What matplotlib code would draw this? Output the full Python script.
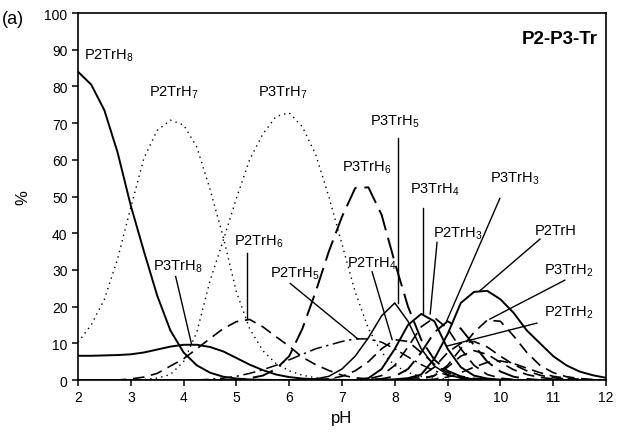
import numpy as np
import matplotlib
matplotlib.use("Agg")
import matplotlib.pyplot as plt

plt.rcParams['font.family'] = ['Liberation Sans', 'DejaVu Sans']
plt.rcParams['mathtext.fontset'] = 'custom'
plt.rcParams['mathtext.rm'] = 'Liberation Sans'
plt.rcParams['mathtext.it'] = 'Liberation Sans:italic'
plt.rcParams['mathtext.bf'] = 'Liberation Sans:bold'

# pH grid (step 0.25 from 2 to 12)
ph = [2.0, 2.25, 2.5, 2.75, 3.0, 3.25, 3.5, 3.75, 4.0, 4.25, 4.5, 4.75, 5.0, 5.25,
      5.5, 5.75, 6.0, 6.25, 6.5, 6.75, 7.0, 7.25, 7.5, 7.75, 8.0, 8.25, 8.5, 8.75,
      9.0, 9.25, 9.5, 9.75, 10.0, 10.25, 10.5, 10.75, 11.0, 11.25, 11.5, 11.75, 12.0]

#            2.0   2.25  2.5   2.75  3.0   3.25  3.5   3.75  4.0   4.25  4.5   4.75  5.0   5.25  5.5   5.75  6.0   6.25  6.5   6.75  7.0   7.25  7.5   7.75  8.0   8.25  8.5   8.75  9.0   9.25  9.5   9.75  10.0  10.25 10.5  10.75 11.0  11.25 11.5  11.75 12.0
P2TrH8  = [84.0, 80.5, 73.5, 62.0, 47.5, 35.0, 23.0, 13.5, 7.5,  4.0,  2.0,  0.9,  0.4,  0.15, 0.05, 0,    0,    0,    0,    0,    0,    0,    0,    0,    0,    0,    0,    0,    0,    0,    0,    0,    0,    0,    0,    0,    0,    0,    0,    0,    0]
P3TrH8  = [6.6,  6.6,  6.7,  6.8,  7.0,  7.5,  8.3,  9.1,  9.6,  9.6,  9.0,  7.8,  6.0,  4.2,  2.7,  1.5,  0.8,  0.4,  0.2,  0.1,  0,    0,    0,    0,    0,    0,    0,    0,    0,    0,    0,    0,    0,    0,    0,    0,    0,    0,    0,    0,    0]
P2TrH7  = [10.3, 15.0, 22.0, 33.0, 47.0, 60.5, 68.0, 70.8, 69.5, 63.5, 52.0, 39.0, 24.0, 14.0, 8.0,  4.5,  2.5,  1.3,  0.6,  0.3,  0.1,  0,    0,    0,    0,    0,    0,    0,    0,    0,    0,    0,    0,    0,    0,    0,    0,    0,    0,    0,    0]
P3TrH7  = [0,    0,    0,    0,    0.05, 0.15, 0.5,  1.5,  5.0,  13.0, 27.0, 38.0, 49.5, 60.0, 67.0, 71.8, 72.8, 69.0, 61.5, 50.0, 37.0, 24.0, 14.0, 7.5,  4.0,  2.0,  1.0,  0.5,  0.2,  0,    0,    0,    0,    0,    0,    0,    0,    0,    0,    0,    0]
P2TrH6  = [0,    0,    0,    0,    0.3,  0.8,  1.8,  3.8,  5.8,  8.5,  11.3, 14.0, 15.9, 16.5, 14.5, 11.8, 9.2,  6.2,  4.2,  2.6,  1.3,  0.6,  0.3,  0.1,  0,    0,    0,    0,    0,    0,    0,    0,    0,    0,    0,    0,    0,    0,    0,    0,    0]
P2TrH5  = [0,    0,    0,    0,    0,    0,    0,    0,    0,    0,    0.2,  0.5,  1.0,  1.8,  2.8,  4.0,  5.5,  7.0,  8.5,  9.5,  10.5, 11.2, 11.2, 10.3, 8.5,  6.3,  4.2,  2.5,  1.3,  0.6,  0.3,  0.1,  0,    0,    0,    0,    0,    0,    0,    0,    0]
P3TrH6  = [0,    0,    0,    0,    0,    0,    0,    0,    0,    0,    0,    0,    0,    0.5,  1.2,  3.0,  6.5,  14.0, 24.0, 35.0, 44.5, 52.3, 52.5, 45.0, 32.0, 20.0, 11.0, 5.5,  2.5,  1.0,  0.4,  0.15, 0,    0,    0,    0,    0,    0,    0,    0,    0]
P3TrH5  = [0,    0,    0,    0,    0,    0,    0,    0,    0,    0,    0,    0,    0,    0,    0,    0,    0,    0,    0.3,  1.0,  3.0,  6.5,  11.5, 17.5, 21.0, 16.0, 8.5,  3.8,  1.5,  0.5,  0.2,  0,    0,    0,    0,    0,    0,    0,    0,    0,    0]
P2TrH4  = [0,    0,    0,    0,    0,    0,    0,    0,    0,    0,    0,    0,    0,    0,    0,    0,    0,    0,    0,    0.3,  1.0,  2.5,  5.0,  8.5,  11.0, 10.5, 7.5,  4.3,  2.0,  0.8,  0.3,  0,    0,    0,    0,    0,    0,    0,    0,    0,    0]
P3TrH4  = [0,    0,    0,    0,    0,    0,    0,    0,    0,    0,    0,    0,    0,    0,    0,    0,    0,    0,    0,    0,    0,    0,    0.5,  3.0,  8.5,  15.0, 18.0, 16.0, 8.5,  3.5,  1.2,  0.4,  0.1,  0,    0,    0,    0,    0,    0,    0,    0]
P2TrH3  = [0,    0,    0,    0,    0,    0,    0,    0,    0,    0,    0,    0,    0,    0,    0,    0,    0,    0,    0,    0,    0,    0,    0.3,  1.2,  4.0,  9.0,  14.5, 17.0, 14.0, 8.5,  4.0,  1.5,  0.5,  0.15, 0,    0,    0,    0,    0,    0,    0]
P3TrH3  = [0,    0,    0,    0,    0,    0,    0,    0,    0,    0,    0,    0,    0,    0,    0,    0,    0,    0,    0,    0,    0,    0,    0,    0.3,  1.0,  3.0,  7.5,  13.0, 16.0, 14.0, 9.5,  5.0,  2.3,  0.9,  0.3,  0,    0,    0,    0,    0,    0]
P2TrH   = [0,    0,    0,    0,    0,    0,    0,    0,    0,    0,    0,    0,    0,    0,    0,    0,    0,    0,    0,    0,    0,    0,    0,    0,    0.2,  0.5,  1.5,  5.8,  12.5, 21.0, 24.0, 24.3, 22.0, 18.3, 13.5, 10.0, 6.5,  4.0,  2.3,  1.3,  0.6]
P3TrH2  = [0,    0,    0,    0,    0,    0,    0,    0,    0,    0,    0,    0,    0,    0,    0,    0,    0,    0,    0,    0,    0,    0,    0,    0,    0,    0,    0.3,  1.2,  4.0,  8.5,  13.0, 16.3, 16.0, 12.0, 7.5,  4.0,  2.0,  0.9,  0.4,  0.15, 0]
P2TrH2  = [0,    0,    0,    0,    0,    0,    0,    0,    0,    0,    0,    0,    0,    0,    0,    0,    0,    0,    0,    0,    0,    0,    0,    0,    0,    0.3,  1.0,  3.5,  7.5,  10.0, 10.5, 9.0,  6.5,  4.2,  2.5,  1.3,  0.6,  0.3,  0,    0,    0]
P3TrH   = [0,    0,    0,    0,    0,    0,    0,    0,    0,    0,    0,    0,    0,    0,    0,    0,    0,    0,    0,    0,    0,    0,    0,    0,    0,    0,    0.3,  1.2,  3.5,  6.5,  8.0,  7.0,  4.8,  2.8,  1.5,  0.7,  0.3,  0,    0,    0,    0]
P2Tr    = [0,    0,    0,    0,    0,    0,    0,    0,    0,    0,    0,    0,    0,    0,    0,    0,    0,    0,    0,    0,    0,    0,    0,    0,    0,    0,    0,    0.2,  0.8,  2.0,  3.5,  4.8,  5.2,  4.5,  3.2,  2.0,  1.0,  0.5,  0.2,  0,    0]

fig = plt.figure(figsize=(6.17, 4.39), dpi=100)
ax = fig.add_axes([0.1264, 0.1321, 0.8558, 0.8360])

solid = dict(color='black', lw=1.4, ls='-')
thin = dict(color='black', lw=1.1, ls='-')
dotted = dict(color='black', lw=1.0, ls=(0, (1, 3)))
dash = dict(color='black', lw=1.2, ls=(0, (7, 4)))
longdash = dict(color='black', lw=1.4, ls=(0, (11, 4)))
dashdot = dict(color='black', lw=1.1, ls=(0, (8, 3, 1.5, 3)))

series = [
    (P2TrH8, solid), (P3TrH8, solid), (P2TrH7, dotted), (P3TrH7, dotted),
    (P2TrH6, dash), (P2TrH5, dashdot), (P3TrH6, longdash), (P3TrH5, thin),
    (P2TrH4, dash), (P3TrH4, solid), (P2TrH3, dash), (P3TrH3, longdash),
    (P2TrH, solid), (P3TrH2, dash), (P2TrH2, dash), (P3TrH, dash), (P2Tr, dash),
]
for vals, st in series:
    ax.plot(ph, vals, **st)

ax.set_xlim(2, 12)
ax.set_ylim(0, 100)
ax.set_xticks(range(2, 13))
ax.set_yticks(range(0, 101, 10))
ax.tick_params(direction='out', length=4, width=1.1, labelsize=10, colors='black')
for s in ax.spines.values():
    s.set_linewidth(1.2)
    s.set_color('black')

ax.set_xlabel('pH', fontsize=12, labelpad=4)
ax.set_ylabel('%', fontsize=12, labelpad=10)

fs = 10.5
labels = [
    (r'P2TrH$_8$', 2.12, 88.5, None, None),
    (r'P2TrH$_7$', 3.82, 78.5, None, None),
    (r'P3TrH$_7$', 5.88, 78.5, None, None),
    (r'P3TrH$_6$', 7.47, 58.0, None, None),
    (r'P3TrH$_5$', 8.0, 70.5, (8.06, 66.0), (8.06, 21.0)),
    (r'P3TrH$_4$', 8.75, 52.0, (8.53, 47.0), (8.53, 18.0)),
    (r'P3TrH$_3$', 10.28, 55.0, (9.99, 49.5), (8.98, 16.0)),
    (r'P2TrH$_3$', 9.2, 40.0, (8.80, 37.5), (8.67, 18.0)),
    (r'P2TrH', 11.05, 40.8, (10.75, 38.4), (9.61, 24.3)),
    (r'P3TrH$_2$', 11.3, 30.0, (11.22, 27.2), (9.80, 16.6)),
    (r'P2TrH$_2$', 11.3, 18.6, (10.69, 15.5), (9.00, 9.3)),
    (r'P2TrH$_4$', 7.57, 32.0, (7.57, 29.5), (7.95, 11.0)),
    (r'P2TrH$_5$', 6.1, 29.2, (6.02, 26.3), (7.30, 11.2)),
    (r'P2TrH$_6$', 5.43, 37.8, (5.20, 34.5), (5.20, 16.6)),
    (r'P3TrH$_8$', 3.9, 31.0, (3.85, 28.2), (4.15, 9.8)),
]
for txt, x, y, p0, p1 in labels:
    ha = 'left' if txt.endswith('8$') and x < 2.5 else 'center'
    ax.text(x, y, txt, fontsize=fs, ha=ha, va='center')
    if p0 is not None:
        ax.plot([p0[0], p1[0]], [p0[1], p1[1]], color='black', lw=1.0)

ax.text(0.985, 0.93, 'P2-P3-Tr', transform=ax.transAxes, fontsize=13.5,
        fontweight='bold', ha='right', va='center')
fig.text(0.003, 0.955, '(a)', fontsize=13, ha='left', va='center')

fig.savefig('out.png', dpi=100)
